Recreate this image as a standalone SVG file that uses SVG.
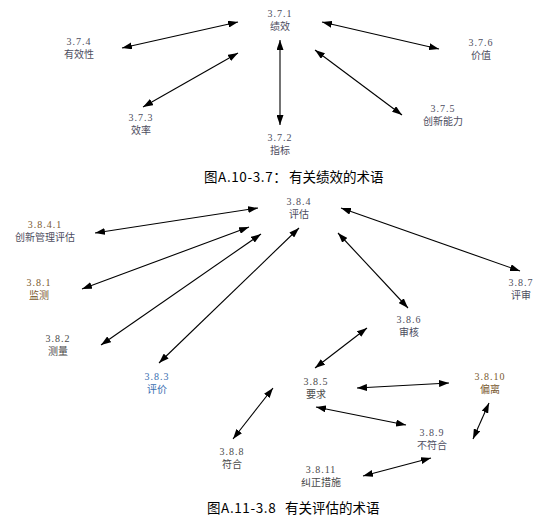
<svg xmlns="http://www.w3.org/2000/svg" width="552" height="527" viewBox="0 0 552 527">
<defs>
<marker id="ah" viewBox="0 0 10 7" refX="10" refY="3.5" markerWidth="10" markerHeight="7" markerUnits="userSpaceOnUse" orient="auto-start-reverse">
<path d="M0,0 L10,3.5 L0,7 z" fill="#000"/>
</marker>
<style>
.lbl{font-family:"Liberation Serif","Noto Sans CJK SC",serif;font-size:10px;text-anchor:middle;fill:#4d4d60}
.num{letter-spacing:1px}
.cap{font-family:"Noto Sans CJK SC","Noto Sans",sans-serif;font-size:13.5px;fill:#000}
.c line{stroke:#000;stroke-width:1.1;marker-start:url(#ah);marker-end:url(#ah)}
.brown{fill:#7a5a30}
.blue{fill:#3a6eb0}
.gray{fill:#4a4a4a}
</style>
</defs>
<rect width="552" height="527" fill="#fff"/>
<g id="connectors" class="c">
<line x1="122" y1="48" x2="238" y2="22"/>
<line x1="143" y1="107" x2="238" y2="53"/>
<line x1="280" y1="40" x2="280" y2="125"/>
<line x1="322" y1="22" x2="439" y2="49"/>
<line x1="315" y1="50" x2="402" y2="115"/>
<line x1="95" y1="233" x2="258" y2="208"/>
<line x1="82" y1="289" x2="249" y2="227"/>
<line x1="101" y1="345" x2="261" y2="234"/>
<line x1="159" y1="363" x2="299" y2="228"/>
<line x1="341" y1="208" x2="520" y2="271"/>
<line x1="338" y1="233" x2="408" y2="308"/>
<line x1="367" y1="328" x2="315" y2="368"/>
<line x1="357" y1="388" x2="449" y2="383"/>
<line x1="316" y1="407" x2="406" y2="425"/>
<line x1="489" y1="403" x2="473" y2="439"/>
<line x1="431" y1="458" x2="363" y2="476"/>
<line x1="273" y1="388" x2="233" y2="439"/>
</g>
<g id="n371"><text class="lbl" x="280" y="17"><tspan class="num">3.7.1</tspan><tspan x="280" dy="12.5">绩效</tspan></text></g>
<g id="n374"><text class="lbl" x="79" y="45"><tspan class="num">3.7.4</tspan><tspan x="79" dy="12.5">有效性</tspan></text></g>
<g id="n373"><text class="lbl" x="141" y="121"><tspan class="num">3.7.3</tspan><tspan x="141" dy="12.5">效率</tspan></text></g>
<g id="n372"><text class="lbl" x="280" y="141"><tspan class="num">3.7.2</tspan><tspan x="280" dy="12.5">指标</tspan></text></g>
<g id="n376"><text class="lbl" x="481" y="46"><tspan class="num">3.7.6</tspan><tspan x="481" dy="12.5">价值</tspan></text></g>
<g id="n375"><text class="lbl" x="443" y="112"><tspan class="num">3.7.5</tspan><tspan x="443" dy="12.5">创新能力</tspan></text></g>
<g id="cap1"><text class="cap" x="204" y="182"><tspan letter-spacing="0.6">图A.10-3.7</tspan>：<tspan x="289">有关绩效的术语</tspan></text></g>
<g id="n384"><text class="lbl" x="299" y="205"><tspan class="num">3.8.4</tspan><tspan x="299" dy="12.5">评估</tspan></text></g>
<g id="n3841"><text class="lbl" x="45" y="228"><tspan class="num brown">3.8.4.1</tspan><tspan x="45" dy="12.5">创新管理评估</tspan></text></g>
<g id="n381"><text class="lbl brown" x="39" y="286"><tspan class="num">3.8.1</tspan><tspan x="39" dy="12.5">监测</tspan></text></g>
<g id="n382"><text class="lbl gray" x="58" y="342"><tspan class="num">3.8.2</tspan><tspan x="58" dy="12.5">测量</tspan></text></g>
<g id="n383"><text class="lbl blue" x="157" y="380"><tspan class="num">3.8.3</tspan><tspan x="157" dy="12.5">评价</tspan></text></g>
<g id="n387"><text class="lbl" x="521" y="286"><tspan class="num">3.8.7</tspan><tspan x="521" dy="12.5">评审</tspan></text></g>
<g id="n386"><text class="lbl" x="409" y="323"><tspan class="num">3.8.6</tspan><tspan x="409" dy="12.5">审核</tspan></text></g>
<g id="n385"><text class="lbl gray" x="316" y="385"><tspan class="num">3.8.5</tspan><tspan x="316" dy="12.5">要求</tspan></text></g>
<g id="n3810"><text class="lbl brown" x="490" y="380"><tspan class="num">3.8.10</tspan><tspan x="490" dy="12.5">偏离</tspan></text></g>
<g id="n389"><text class="lbl" x="432" y="436"><tspan class="num">3.8.9</tspan><tspan x="432" dy="12.5">不符合</tspan></text></g>
<g id="n388"><text class="lbl gray" x="232" y="455"><tspan class="num">3.8.8</tspan><tspan x="232" dy="12.5">符合</tspan></text></g>
<g id="n3811"><text class="lbl gray" x="321" y="473"><tspan class="num">3.8.11</tspan><tspan x="321" dy="12.5">纠正措施</tspan></text></g>
<g id="cap2"><text class="cap" x="207" y="513"><tspan letter-spacing="0.6">图A.11-3.8</tspan> <tspan x="285">有关评估的术语</tspan></text></g>
</svg>
